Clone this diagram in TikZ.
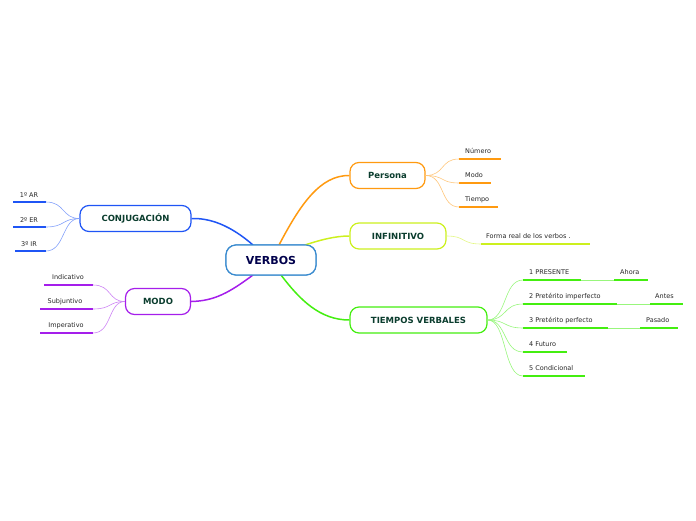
\documentclass[tikz,border=0pt]{standalone}
\usepackage{fontspec}
\setmainfont{DejaVu Sans}
\begin{document}
\begin{tikzpicture}[x=1pt,y=-1pt,
  topic/.style={draw=#1,line width=1.2pt,rounded corners=9pt,fill=white,minimum height=26pt,inner xsep=0pt,font=\bfseries\fontsize{8.5}{10}\selectfont,text=tdark},
  leaf/.style={font=\fontsize{6.5}{8}\selectfont,text=black!85,anchor=base west,inner sep=0pt},
  uline/.style={draw=#1,line width=1.6pt},
  thin/.style={draw=#1!55,line width=0.6pt},
  main/.style={draw=#1,line width=1.5pt}]
\definecolor{tdark}{HTML}{0B3D2E}
\definecolor{cblue}{HTML}{1F55F5}
\definecolor{cpurp}{HTML}{A51EEB}
\definecolor{corange}{HTML}{FF9A10}
\definecolor{cyel}{HTML}{CCF01E}
\definecolor{cgreen}{HTML}{44EE10}
\definecolor{cmain}{HTML}{3A8BCF}
\useasboundingbox (0,0) rectangle (696,520);
% central
\node[draw=cmain,line width=1.2pt,rounded corners=10pt,minimum width=90pt,minimum height=30pt,font=\bfseries\fontsize{11}{13}\selectfont,text=blue!30!black,fill=white] (v) at (271,260) {VERBOS};
\node[topic=cblue,minimum width=111pt] (conj) at (135.5,218.5) {CONJUGACIÓN};
\node[topic=cpurp,minimum width=65pt] (modo) at (158,301.5) {MODO};
\node[topic=corange,minimum width=75pt] (pers) at (387.5,175.5) {Persona};
\node[topic=cyel,minimum width=96pt] (inf) at (398,236) {INFINITIVO};
\node[topic=cgreen,minimum width=137pt] (tiem) at (418.5,320) {TIEMPOS VERBALES};
% main connectors
\coordinate (v1) at (253,245); \coordinate (v2) at (253,275);
\coordinate (v3) at (279,245); \coordinate (v4) at (305,245); \coordinate (v5) at (281,275);
\begin{scope}[on background layer/.style={}]
\draw[main=cblue] (v1) .. controls (230,225) and (210,218) .. (conj.east);
\draw[main=cpurp] (v2) .. controls (230,292) and (215,301) .. (modo.east);
\draw[main=corange] (v3) .. controls (300,205) and (320,175) .. (pers.west);
\draw[main=cyel] (v4) .. controls (320,240) and (335,236) .. (inf.west);
\draw[main=cgreen] (v5) .. controls (300,300) and (320,320) .. (tiem.west);
\end{scope}
% conjugacion leaves
\foreach \t/\y/\xa [count=\i] in {1º AR/202/13,2º ER/227/13,3º IR/251/15}{
  \coordinate (ca\i) at (\xa,\y); \coordinate (cb\i) at (46,\y);
  \draw[uline=cblue] (ca\i) -- (cb\i);
  \node[leaf,anchor=base] (ct\i) at (29,\y-5) {\t};
  \draw[thin=cblue] (cb\i) .. controls (65,\y) and (62,218.5) .. (conj.west);
}
\foreach \t/\y/\xa/\xt [count=\i] in {Indicativo/285/44/68,Subjuntivo/309/40/65,Imperativo/333/40/66}{
  \coordinate (ma\i) at (\xa,\y); \coordinate (mb\i) at (93,\y);
  \draw[uline=cpurp] (ma\i) -- (mb\i);
  \node[leaf,anchor=base] (mt\i) at (\xt,\y-6) {\t};
  \draw[thin=cpurp] (mb\i) .. controls (112,\y) and (108,301.5) .. (modo.west);
}
\foreach \t/\y/\xb [count=\i] in {Número/159/501,Modo/183/491,Tiempo/207/498}{
  \coordinate (pa\i) at (459,\y); \coordinate (pb\i) at (\xb,\y);
  \draw[uline=corange] (pa\i) -- (pb\i);
  \node[leaf] (pt\i) at (465,\y-6) {\t};
  \draw[thin=corange] (pers.east) .. controls (445,175.5) and (440,\y) .. (pa\i);
}
\coordinate (ia) at (481,244); \coordinate (ib) at (590,244);
\draw[uline=cyel] (ia) -- (ib);
\node[leaf] (it) at (486,238) {Forma real de los verbos .};
\draw[thin=cyel] (inf.east) .. controls (466,236) and (461,244) .. (ia);
\foreach \t/\y/\xb [count=\i] in {1 PRESENTE/280/581,2 Pretérito imperfecto/304/617,3 Pretérito perfecto/328/608,4 Futuro/352/567,5 Condicional/376/585}{
  \coordinate (ta\i) at (523,\y); \coordinate (tb\i) at (\xb,\y);
  \draw[uline=cgreen] (ta\i) -- (tb\i);
  \node[leaf] (tt\i) at (529,\y-6) {\t};
  \draw[thin=cgreen] (tiem.east) .. controls (507,320) and (503,\y) .. (ta\i);
}
\foreach \t/\y/\xa/\xb/\xt/\p in {Ahora/280/614/648/620/1,Antes/304/650/683/655/2,Pasado/328/640/678/646/3}{
  \coordinate (sa\p) at (\xa,\y); \coordinate (sb\p) at (\xb,\y);
  \draw[uline=cgreen] (sa\p) -- (sb\p);
  \node[leaf] (st\p) at (\xt,\y-6) {\t};
  \draw[thin=cgreen] (tb\p) -- (sa\p);
}
\node[draw=cmain,line width=1.2pt,rounded corners=10pt,minimum width=90pt,minimum height=30pt,font=\bfseries\fontsize{11}{13}\selectfont,text=blue!30!black,fill=white] (v0) at (271,260) {VERBOS};
\end{tikzpicture}
\end{document}
